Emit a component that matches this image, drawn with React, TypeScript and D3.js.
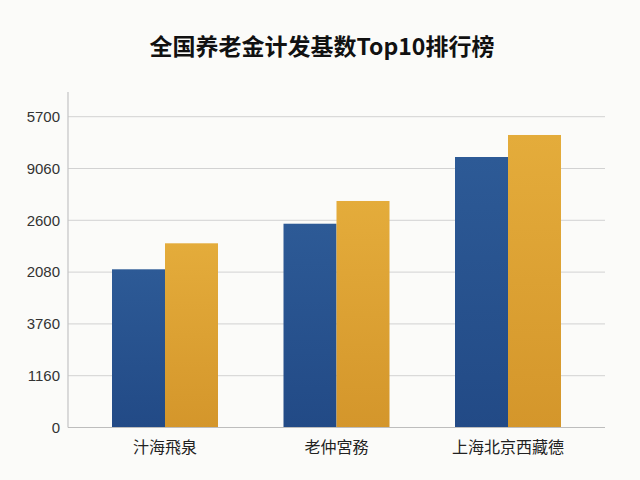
import React from "react";
import * as d3 from "d3";

const title = "全国养老金计发基数Top10排行榜";
const categories = ["汁海飛泉", "老仲宮務", "上海北京西藏德"];
const seriesBlue = [3054, 3934, 5222];
const seriesGold = [3556, 4373, 5647];
const tickValues = [0, 1000, 2000, 3000, 4000, 5000, 6000];
const tickLabels = ["0", "1160", "3760", "2080", "2600", "9060", "5700"];

const W = 640;
const H = 480;
const axisX = 68;
const plotRight = 605;
const yBottom = 427.5;
const yTop = 116.7;
const barW = 53;

export default function App() {
  const y = d3.scaleLinear().domain([0, 6000]).range([yBottom, yTop]);
  const x = d3.scalePoint<string>().domain(categories).range([79.25, 593.75]).padding(0.5);
  const font = "'Noto Sans CJK SC', 'Noto Sans', sans-serif";

  return (
    <svg
      width={W}
      height={H}
      style={{ position: "absolute", left: 0, top: 0 }}
      fontFamily={font}
    >
      <defs>
        <linearGradient id="gBlue" x1="0" y1="0" x2="0" y2="1">
          <stop offset="0" stopColor="#2d5a96" />
          <stop offset="1" stopColor="#224a86" />
        </linearGradient>
        <linearGradient id="gGold" x1="0" y1="0" x2="0" y2="1">
          <stop offset="0" stopColor="#e4ac3b" />
          <stop offset="1" stopColor="#d4962b" />
        </linearGradient>
      </defs>
      <rect x={0} y={0} width={W} height={H} fill="#fbfbf9" />
      <text
        x={322}
        y={55}
        textAnchor="middle"
        fontSize={23}
        fontWeight="bold"
        fill="#111"
      >
        {title}
      </text>
      {tickValues.map((v, i) => (
        <g key={v}>
          {i > 0 && (
            <line
              x1={axisX}
              x2={plotRight}
              y1={y(v)}
              y2={y(v)}
              stroke="#d2d2d2"
              strokeWidth={1}
            />
          )}
          <text
            x={60}
            y={y(v)}
            dy="0.35em"
            textAnchor="end"
            fontSize={15}
            fontFamily="'Liberation Sans', Arial, sans-serif"
            fill="#333"
          >
            {tickLabels[i]}
          </text>
        </g>
      ))}
      <line x1={axisX} x2={axisX} y1={92} y2={yBottom} stroke="#c4c4c4" strokeWidth={1.2} />
      {categories.map((c, i) => {
        const cx = x(c) as number;
        return (
          <g key={c}>
            <rect
              x={cx - barW}
              y={y(seriesBlue[i])}
              width={barW}
              height={yBottom - y(seriesBlue[i])}
              fill="url(#gBlue)"
            />
            <rect
              x={cx}
              y={y(seriesGold[i])}
              width={barW}
              height={yBottom - y(seriesGold[i])}
              fill="url(#gGold)"
            />
            <text x={cx} y={453} textAnchor="middle" fontSize={16} fill="#222">
              {c}
            </text>
          </g>
        );
      })}
      <line x1={axisX} x2={plotRight} y1={yBottom} y2={yBottom} stroke="#bdbdbd" strokeWidth={1.2} />
    </svg>
  );
}
